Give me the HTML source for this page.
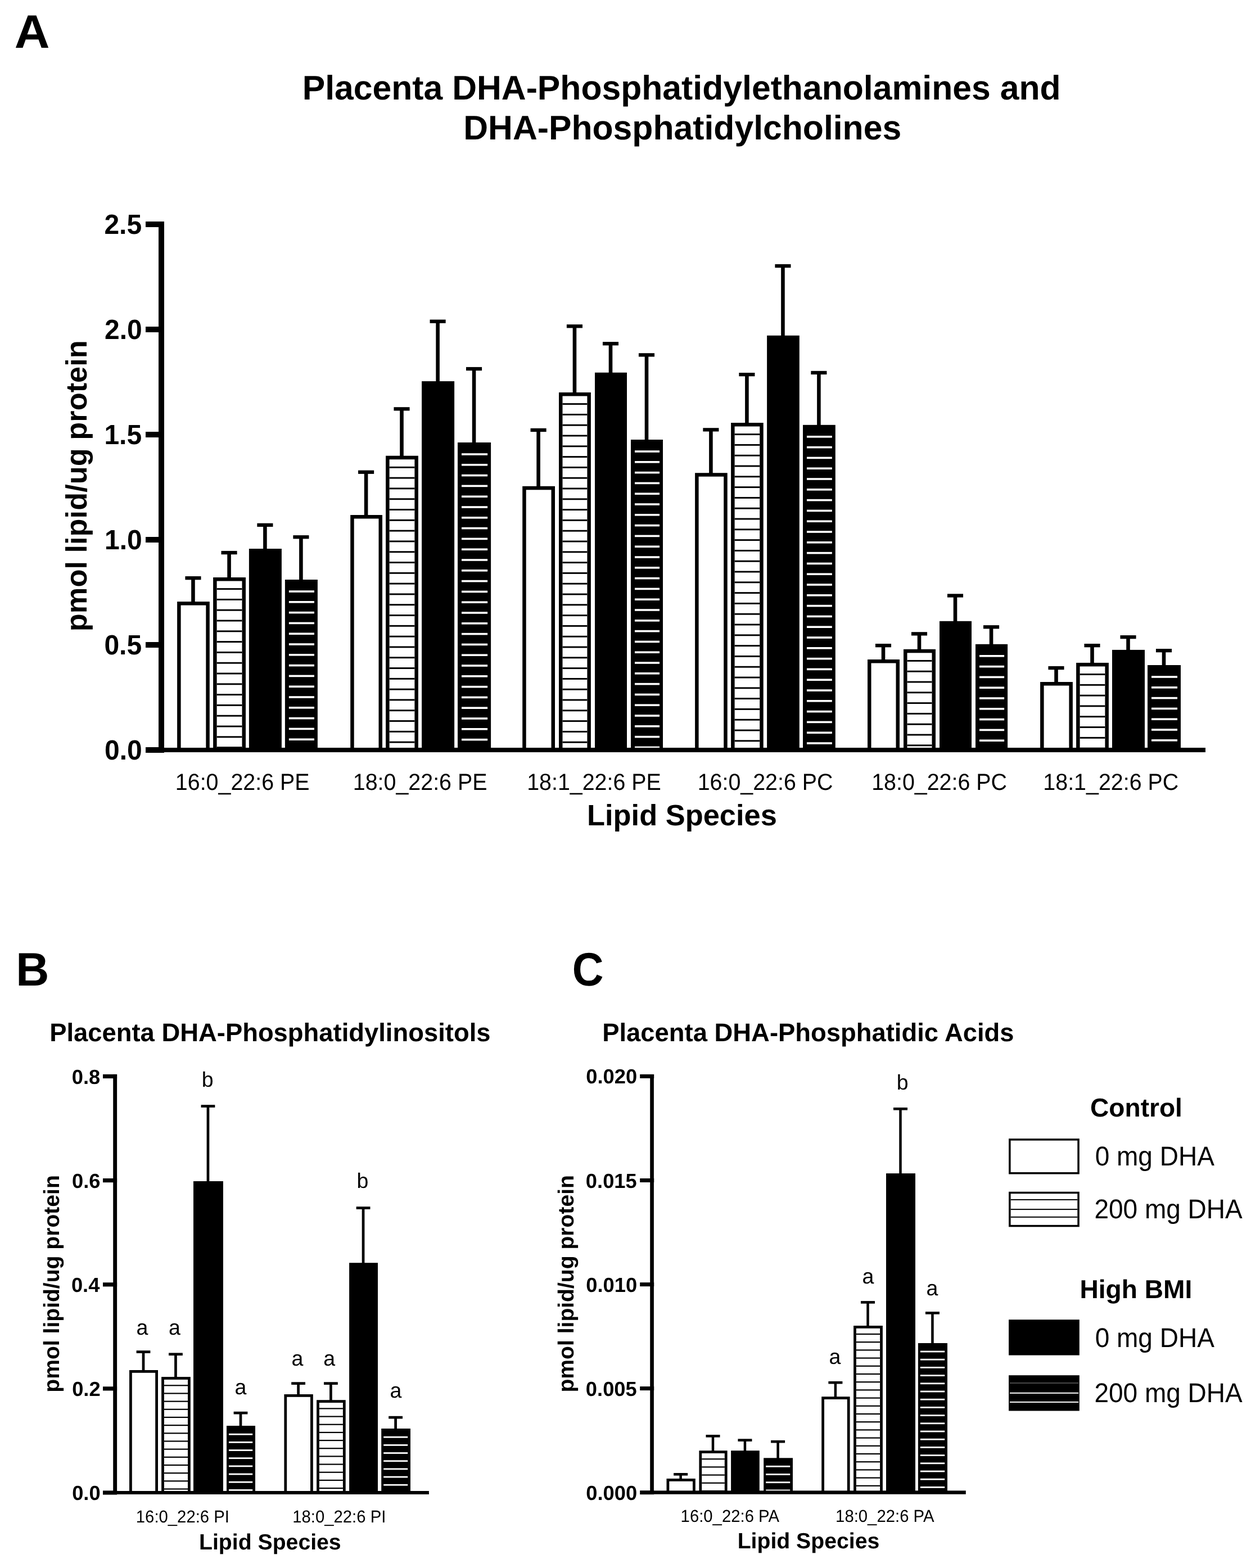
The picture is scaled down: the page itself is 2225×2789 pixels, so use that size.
<!DOCTYPE html>
<html><head><meta charset="utf-8"><title>Placenta DHA lipid species</title>
<style>
html,body{margin:0;padding:0;background:#fff;overflow:hidden;}
svg{display:block;}
text{font-family:"Liberation Sans",Arial,sans-serif;fill:#000;text-rendering:geometricPrecision;}
</style></head>
<body>
<svg width="2225" height="2789" viewBox="0 0 2225 2789">
<rect x="0" y="0" width="2225" height="2789" fill="#fff"/>
<text transform="translate(25.73,84.90) scale(1.04,1.0)" font-size="83.5" font-weight="bold">A</text>
<text x="537.70" y="177.00" font-size="60.7" font-weight="bold">Placenta DHA-Phosphatidylethanolamines and</text>
<text x="824.30" y="247.60" font-size="60.7" font-weight="bold">DHA-Phosphatidylcholines</text>
<rect x="259.00" y="394.00" width="33.00" height="10.00" fill="#000"/>
<text transform="translate(185.40,416.00) scale(1.0,1.03)" font-size="48" font-weight="bold">2.5</text>
<rect x="259.00" y="581.00" width="33.00" height="10.00" fill="#000"/>
<text transform="translate(186.00,603.00) scale(1.0,1.03)" font-size="48" font-weight="bold">2.0</text>
<rect x="259.00" y="768.00" width="33.00" height="10.00" fill="#000"/>
<text transform="translate(185.40,790.00) scale(1.0,1.03)" font-size="48" font-weight="bold">1.5</text>
<rect x="259.00" y="955.00" width="33.00" height="10.00" fill="#000"/>
<text transform="translate(186.00,977.00) scale(1.0,1.03)" font-size="48" font-weight="bold">1.0</text>
<rect x="259.00" y="1142.00" width="33.00" height="10.00" fill="#000"/>
<text transform="translate(185.40,1164.00) scale(1.0,1.03)" font-size="48" font-weight="bold">0.5</text>
<rect x="259.00" y="1329.00" width="33.00" height="10.00" fill="#000"/>
<text transform="translate(186.00,1351.00) scale(1.0,1.03)" font-size="48" font-weight="bold">0.0</text>
<text transform="translate(154.20,1123.21) rotate(-90)" font-size="52.4" font-weight="bold">pmol lipid/ug protein</text>
<text x="1044.06" y="1467.60" font-size="52.4" font-weight="bold">Lipid Species</text>
<text transform="translate(311.85,1404.80) scale(1.0,1.05)" font-size="39.4" font-weight="normal">16:0_22:6 PE</text>
<text transform="translate(627.75,1404.80) scale(1.0,1.05)" font-size="39.4" font-weight="normal">18:0_22:6 PE</text>
<text transform="translate(937.14,1404.80) scale(1.0,1.05)" font-size="39.4" font-weight="normal">18:1_22:6 PE</text>
<text transform="translate(1240.64,1404.80) scale(1.0,1.05)" font-size="39.4" font-weight="normal">16:0_22:6 PC</text>
<text transform="translate(1550.14,1404.80) scale(1.0,1.05)" font-size="39.4" font-weight="normal">18:0_22:6 PC</text>
<text transform="translate(1855.35,1404.80) scale(1.0,1.05)" font-size="39.4" font-weight="normal">18:1_22:6 PC</text>
<rect x="340.15" y="1026.00" width="6.60" height="46.10" fill="#000"/>
<rect x="329.40" y="1025.00" width="28.10" height="6.30" fill="#000"/>
<rect x="315.10" y="1070.10" width="57.70" height="261.90" fill="#000"/>
<rect x="321.60" y="1076.60" width="44.70" height="255.40" fill="#fff"/>
<rect x="404.25" y="980.90" width="6.60" height="48.10" fill="#000"/>
<rect x="393.50" y="979.90" width="28.10" height="6.30" fill="#000"/>
<rect x="379.10" y="1027.00" width="57.90" height="305.00" fill="#000"/>
<rect x="385.60" y="1033.50" width="44.90" height="298.50" fill="#fff"/>
<rect x="385.60" y="1046.15" width="44.90" height="2.90" fill="#000"/>
<rect x="385.60" y="1064.95" width="44.90" height="2.90" fill="#000"/>
<rect x="385.60" y="1083.75" width="44.90" height="2.90" fill="#000"/>
<rect x="385.60" y="1102.55" width="44.90" height="2.90" fill="#000"/>
<rect x="385.60" y="1121.35" width="44.90" height="2.90" fill="#000"/>
<rect x="385.60" y="1140.15" width="44.90" height="2.90" fill="#000"/>
<rect x="385.60" y="1158.95" width="44.90" height="2.90" fill="#000"/>
<rect x="385.60" y="1177.75" width="44.90" height="2.90" fill="#000"/>
<rect x="385.60" y="1196.55" width="44.90" height="2.90" fill="#000"/>
<rect x="385.60" y="1215.35" width="44.90" height="2.90" fill="#000"/>
<rect x="385.60" y="1234.15" width="44.90" height="2.90" fill="#000"/>
<rect x="385.60" y="1252.95" width="44.90" height="2.90" fill="#000"/>
<rect x="385.60" y="1271.75" width="44.90" height="2.90" fill="#000"/>
<rect x="385.60" y="1290.55" width="44.90" height="2.90" fill="#000"/>
<rect x="385.60" y="1309.35" width="44.90" height="2.90" fill="#000"/>
<rect x="385.60" y="1328.15" width="44.90" height="2.90" fill="#000"/>
<rect x="468.10" y="931.70" width="6.60" height="46.30" fill="#000"/>
<rect x="457.35" y="930.70" width="28.10" height="6.30" fill="#000"/>
<rect x="442.90" y="976.00" width="58.00" height="356.00" fill="#000"/>
<rect x="532.10" y="953.10" width="6.60" height="79.90" fill="#000"/>
<rect x="521.35" y="952.10" width="28.10" height="6.30" fill="#000"/>
<rect x="506.90" y="1031.00" width="58.00" height="301.00" fill="#000"/>
<rect x="513.90" y="1050.20" width="45.00" height="3.60" fill="#fff"/>
<rect x="513.90" y="1069.00" width="45.00" height="3.60" fill="#fff"/>
<rect x="513.90" y="1087.80" width="45.00" height="3.60" fill="#fff"/>
<rect x="513.90" y="1106.60" width="45.00" height="3.60" fill="#fff"/>
<rect x="513.90" y="1125.40" width="45.00" height="3.60" fill="#fff"/>
<rect x="513.90" y="1144.20" width="45.00" height="3.60" fill="#fff"/>
<rect x="513.90" y="1163.00" width="45.00" height="3.60" fill="#fff"/>
<rect x="513.90" y="1181.80" width="45.00" height="3.60" fill="#fff"/>
<rect x="513.90" y="1200.60" width="45.00" height="3.60" fill="#fff"/>
<rect x="513.90" y="1219.40" width="45.00" height="3.60" fill="#fff"/>
<rect x="513.90" y="1238.20" width="45.00" height="3.60" fill="#fff"/>
<rect x="513.90" y="1257.00" width="45.00" height="3.60" fill="#fff"/>
<rect x="513.90" y="1275.80" width="45.00" height="3.60" fill="#fff"/>
<rect x="513.90" y="1294.60" width="45.00" height="3.60" fill="#fff"/>
<rect x="513.90" y="1313.40" width="45.00" height="3.60" fill="#fff"/>
<rect x="647.80" y="837.60" width="6.60" height="80.40" fill="#000"/>
<rect x="637.05" y="836.60" width="28.10" height="6.30" fill="#000"/>
<rect x="623.20" y="916.00" width="56.80" height="416.00" fill="#000"/>
<rect x="629.70" y="922.50" width="43.80" height="409.50" fill="#fff"/>
<rect x="711.20" y="725.20" width="6.60" height="87.50" fill="#000"/>
<rect x="700.45" y="724.20" width="28.10" height="6.30" fill="#000"/>
<rect x="686.10" y="810.70" width="57.80" height="521.30" fill="#000"/>
<rect x="692.60" y="817.20" width="44.80" height="514.80" fill="#fff"/>
<rect x="692.60" y="829.85" width="44.80" height="2.90" fill="#000"/>
<rect x="692.60" y="848.65" width="44.80" height="2.90" fill="#000"/>
<rect x="692.60" y="867.45" width="44.80" height="2.90" fill="#000"/>
<rect x="692.60" y="886.25" width="44.80" height="2.90" fill="#000"/>
<rect x="692.60" y="905.05" width="44.80" height="2.90" fill="#000"/>
<rect x="692.60" y="923.85" width="44.80" height="2.90" fill="#000"/>
<rect x="692.60" y="942.65" width="44.80" height="2.90" fill="#000"/>
<rect x="692.60" y="961.45" width="44.80" height="2.90" fill="#000"/>
<rect x="692.60" y="980.25" width="44.80" height="2.90" fill="#000"/>
<rect x="692.60" y="999.05" width="44.80" height="2.90" fill="#000"/>
<rect x="692.60" y="1017.85" width="44.80" height="2.90" fill="#000"/>
<rect x="692.60" y="1036.65" width="44.80" height="2.90" fill="#000"/>
<rect x="692.60" y="1055.45" width="44.80" height="2.90" fill="#000"/>
<rect x="692.60" y="1074.25" width="44.80" height="2.90" fill="#000"/>
<rect x="692.60" y="1093.05" width="44.80" height="2.90" fill="#000"/>
<rect x="692.60" y="1111.85" width="44.80" height="2.90" fill="#000"/>
<rect x="692.60" y="1130.65" width="44.80" height="2.90" fill="#000"/>
<rect x="692.60" y="1149.45" width="44.80" height="2.90" fill="#000"/>
<rect x="692.60" y="1168.25" width="44.80" height="2.90" fill="#000"/>
<rect x="692.60" y="1187.05" width="44.80" height="2.90" fill="#000"/>
<rect x="692.60" y="1205.85" width="44.80" height="2.90" fill="#000"/>
<rect x="692.60" y="1224.65" width="44.80" height="2.90" fill="#000"/>
<rect x="692.60" y="1243.45" width="44.80" height="2.90" fill="#000"/>
<rect x="692.60" y="1262.25" width="44.80" height="2.90" fill="#000"/>
<rect x="692.60" y="1281.05" width="44.80" height="2.90" fill="#000"/>
<rect x="692.60" y="1299.85" width="44.80" height="2.90" fill="#000"/>
<rect x="692.60" y="1318.65" width="44.80" height="2.90" fill="#000"/>
<rect x="775.30" y="569.50" width="6.60" height="110.60" fill="#000"/>
<rect x="764.55" y="568.50" width="28.10" height="6.30" fill="#000"/>
<rect x="750.10" y="678.10" width="58.00" height="653.90" fill="#000"/>
<rect x="839.75" y="653.90" width="6.60" height="135.10" fill="#000"/>
<rect x="829.00" y="652.90" width="28.10" height="6.30" fill="#000"/>
<rect x="814.00" y="787.00" width="59.10" height="545.00" fill="#000"/>
<rect x="821.00" y="806.20" width="46.10" height="3.60" fill="#fff"/>
<rect x="821.00" y="825.00" width="46.10" height="3.60" fill="#fff"/>
<rect x="821.00" y="843.80" width="46.10" height="3.60" fill="#fff"/>
<rect x="821.00" y="862.60" width="46.10" height="3.60" fill="#fff"/>
<rect x="821.00" y="881.40" width="46.10" height="3.60" fill="#fff"/>
<rect x="821.00" y="900.20" width="46.10" height="3.60" fill="#fff"/>
<rect x="821.00" y="919.00" width="46.10" height="3.60" fill="#fff"/>
<rect x="821.00" y="937.80" width="46.10" height="3.60" fill="#fff"/>
<rect x="821.00" y="956.60" width="46.10" height="3.60" fill="#fff"/>
<rect x="821.00" y="975.40" width="46.10" height="3.60" fill="#fff"/>
<rect x="821.00" y="994.20" width="46.10" height="3.60" fill="#fff"/>
<rect x="821.00" y="1013.00" width="46.10" height="3.60" fill="#fff"/>
<rect x="821.00" y="1031.80" width="46.10" height="3.60" fill="#fff"/>
<rect x="821.00" y="1050.60" width="46.10" height="3.60" fill="#fff"/>
<rect x="821.00" y="1069.40" width="46.10" height="3.60" fill="#fff"/>
<rect x="821.00" y="1088.20" width="46.10" height="3.60" fill="#fff"/>
<rect x="821.00" y="1107.00" width="46.10" height="3.60" fill="#fff"/>
<rect x="821.00" y="1125.80" width="46.10" height="3.60" fill="#fff"/>
<rect x="821.00" y="1144.60" width="46.10" height="3.60" fill="#fff"/>
<rect x="821.00" y="1163.40" width="46.10" height="3.60" fill="#fff"/>
<rect x="821.00" y="1182.20" width="46.10" height="3.60" fill="#fff"/>
<rect x="821.00" y="1201.00" width="46.10" height="3.60" fill="#fff"/>
<rect x="821.00" y="1219.80" width="46.10" height="3.60" fill="#fff"/>
<rect x="821.00" y="1238.60" width="46.10" height="3.60" fill="#fff"/>
<rect x="821.00" y="1257.40" width="46.10" height="3.60" fill="#fff"/>
<rect x="821.00" y="1276.20" width="46.10" height="3.60" fill="#fff"/>
<rect x="821.00" y="1295.00" width="46.10" height="3.60" fill="#fff"/>
<rect x="821.00" y="1313.80" width="46.10" height="3.60" fill="#fff"/>
<rect x="954.30" y="762.80" width="6.60" height="104.00" fill="#000"/>
<rect x="943.55" y="761.80" width="28.10" height="6.30" fill="#000"/>
<rect x="929.20" y="864.80" width="57.80" height="467.20" fill="#000"/>
<rect x="935.70" y="871.30" width="44.80" height="460.70" fill="#fff"/>
<rect x="1018.65" y="578.10" width="6.60" height="121.90" fill="#000"/>
<rect x="1007.90" y="577.10" width="28.10" height="6.30" fill="#000"/>
<rect x="994.00" y="698.00" width="56.90" height="634.00" fill="#000"/>
<rect x="1000.50" y="704.50" width="43.90" height="627.50" fill="#fff"/>
<rect x="1000.50" y="717.15" width="43.90" height="2.90" fill="#000"/>
<rect x="1000.50" y="735.95" width="43.90" height="2.90" fill="#000"/>
<rect x="1000.50" y="754.75" width="43.90" height="2.90" fill="#000"/>
<rect x="1000.50" y="773.55" width="43.90" height="2.90" fill="#000"/>
<rect x="1000.50" y="792.35" width="43.90" height="2.90" fill="#000"/>
<rect x="1000.50" y="811.15" width="43.90" height="2.90" fill="#000"/>
<rect x="1000.50" y="829.95" width="43.90" height="2.90" fill="#000"/>
<rect x="1000.50" y="848.75" width="43.90" height="2.90" fill="#000"/>
<rect x="1000.50" y="867.55" width="43.90" height="2.90" fill="#000"/>
<rect x="1000.50" y="886.35" width="43.90" height="2.90" fill="#000"/>
<rect x="1000.50" y="905.15" width="43.90" height="2.90" fill="#000"/>
<rect x="1000.50" y="923.95" width="43.90" height="2.90" fill="#000"/>
<rect x="1000.50" y="942.75" width="43.90" height="2.90" fill="#000"/>
<rect x="1000.50" y="961.55" width="43.90" height="2.90" fill="#000"/>
<rect x="1000.50" y="980.35" width="43.90" height="2.90" fill="#000"/>
<rect x="1000.50" y="999.15" width="43.90" height="2.90" fill="#000"/>
<rect x="1000.50" y="1017.95" width="43.90" height="2.90" fill="#000"/>
<rect x="1000.50" y="1036.75" width="43.90" height="2.90" fill="#000"/>
<rect x="1000.50" y="1055.55" width="43.90" height="2.90" fill="#000"/>
<rect x="1000.50" y="1074.35" width="43.90" height="2.90" fill="#000"/>
<rect x="1000.50" y="1093.15" width="43.90" height="2.90" fill="#000"/>
<rect x="1000.50" y="1111.95" width="43.90" height="2.90" fill="#000"/>
<rect x="1000.50" y="1130.75" width="43.90" height="2.90" fill="#000"/>
<rect x="1000.50" y="1149.55" width="43.90" height="2.90" fill="#000"/>
<rect x="1000.50" y="1168.35" width="43.90" height="2.90" fill="#000"/>
<rect x="1000.50" y="1187.15" width="43.90" height="2.90" fill="#000"/>
<rect x="1000.50" y="1205.95" width="43.90" height="2.90" fill="#000"/>
<rect x="1000.50" y="1224.75" width="43.90" height="2.90" fill="#000"/>
<rect x="1000.50" y="1243.55" width="43.90" height="2.90" fill="#000"/>
<rect x="1000.50" y="1262.35" width="43.90" height="2.90" fill="#000"/>
<rect x="1000.50" y="1281.15" width="43.90" height="2.90" fill="#000"/>
<rect x="1000.50" y="1299.95" width="43.90" height="2.90" fill="#000"/>
<rect x="1000.50" y="1318.75" width="43.90" height="2.90" fill="#000"/>
<rect x="1082.70" y="609.10" width="6.60" height="55.60" fill="#000"/>
<rect x="1071.95" y="608.10" width="28.10" height="6.30" fill="#000"/>
<rect x="1058.00" y="662.70" width="57.00" height="669.30" fill="#000"/>
<rect x="1146.70" y="629.20" width="6.60" height="154.80" fill="#000"/>
<rect x="1135.95" y="628.20" width="28.10" height="6.30" fill="#000"/>
<rect x="1122.00" y="782.00" width="57.00" height="550.00" fill="#000"/>
<rect x="1129.00" y="801.20" width="44.00" height="3.60" fill="#fff"/>
<rect x="1129.00" y="820.00" width="44.00" height="3.60" fill="#fff"/>
<rect x="1129.00" y="838.80" width="44.00" height="3.60" fill="#fff"/>
<rect x="1129.00" y="857.60" width="44.00" height="3.60" fill="#fff"/>
<rect x="1129.00" y="876.40" width="44.00" height="3.60" fill="#fff"/>
<rect x="1129.00" y="895.20" width="44.00" height="3.60" fill="#fff"/>
<rect x="1129.00" y="914.00" width="44.00" height="3.60" fill="#fff"/>
<rect x="1129.00" y="932.80" width="44.00" height="3.60" fill="#fff"/>
<rect x="1129.00" y="951.60" width="44.00" height="3.60" fill="#fff"/>
<rect x="1129.00" y="970.40" width="44.00" height="3.60" fill="#fff"/>
<rect x="1129.00" y="989.20" width="44.00" height="3.60" fill="#fff"/>
<rect x="1129.00" y="1008.00" width="44.00" height="3.60" fill="#fff"/>
<rect x="1129.00" y="1026.80" width="44.00" height="3.60" fill="#fff"/>
<rect x="1129.00" y="1045.60" width="44.00" height="3.60" fill="#fff"/>
<rect x="1129.00" y="1064.40" width="44.00" height="3.60" fill="#fff"/>
<rect x="1129.00" y="1083.20" width="44.00" height="3.60" fill="#fff"/>
<rect x="1129.00" y="1102.00" width="44.00" height="3.60" fill="#fff"/>
<rect x="1129.00" y="1120.80" width="44.00" height="3.60" fill="#fff"/>
<rect x="1129.00" y="1139.60" width="44.00" height="3.60" fill="#fff"/>
<rect x="1129.00" y="1158.40" width="44.00" height="3.60" fill="#fff"/>
<rect x="1129.00" y="1177.20" width="44.00" height="3.60" fill="#fff"/>
<rect x="1129.00" y="1196.00" width="44.00" height="3.60" fill="#fff"/>
<rect x="1129.00" y="1214.80" width="44.00" height="3.60" fill="#fff"/>
<rect x="1129.00" y="1233.60" width="44.00" height="3.60" fill="#fff"/>
<rect x="1129.00" y="1252.40" width="44.00" height="3.60" fill="#fff"/>
<rect x="1129.00" y="1271.20" width="44.00" height="3.60" fill="#fff"/>
<rect x="1129.00" y="1290.00" width="44.00" height="3.60" fill="#fff"/>
<rect x="1129.00" y="1308.80" width="44.00" height="3.60" fill="#fff"/>
<rect x="1129.00" y="1327.60" width="44.00" height="3.60" fill="#fff"/>
<rect x="1261.10" y="762.20" width="6.60" height="81.00" fill="#000"/>
<rect x="1250.35" y="761.20" width="28.10" height="6.30" fill="#000"/>
<rect x="1236.10" y="841.20" width="57.60" height="490.80" fill="#000"/>
<rect x="1242.60" y="847.70" width="44.60" height="484.30" fill="#fff"/>
<rect x="1325.10" y="664.00" width="6.60" height="90.00" fill="#000"/>
<rect x="1314.35" y="663.00" width="28.10" height="6.30" fill="#000"/>
<rect x="1300.10" y="752.00" width="57.60" height="580.00" fill="#000"/>
<rect x="1306.60" y="758.50" width="44.60" height="573.50" fill="#fff"/>
<rect x="1306.60" y="771.15" width="44.60" height="2.90" fill="#000"/>
<rect x="1306.60" y="789.95" width="44.60" height="2.90" fill="#000"/>
<rect x="1306.60" y="808.75" width="44.60" height="2.90" fill="#000"/>
<rect x="1306.60" y="827.55" width="44.60" height="2.90" fill="#000"/>
<rect x="1306.60" y="846.35" width="44.60" height="2.90" fill="#000"/>
<rect x="1306.60" y="865.15" width="44.60" height="2.90" fill="#000"/>
<rect x="1306.60" y="883.95" width="44.60" height="2.90" fill="#000"/>
<rect x="1306.60" y="902.75" width="44.60" height="2.90" fill="#000"/>
<rect x="1306.60" y="921.55" width="44.60" height="2.90" fill="#000"/>
<rect x="1306.60" y="940.35" width="44.60" height="2.90" fill="#000"/>
<rect x="1306.60" y="959.15" width="44.60" height="2.90" fill="#000"/>
<rect x="1306.60" y="977.95" width="44.60" height="2.90" fill="#000"/>
<rect x="1306.60" y="996.75" width="44.60" height="2.90" fill="#000"/>
<rect x="1306.60" y="1015.55" width="44.60" height="2.90" fill="#000"/>
<rect x="1306.60" y="1034.35" width="44.60" height="2.90" fill="#000"/>
<rect x="1306.60" y="1053.15" width="44.60" height="2.90" fill="#000"/>
<rect x="1306.60" y="1071.95" width="44.60" height="2.90" fill="#000"/>
<rect x="1306.60" y="1090.75" width="44.60" height="2.90" fill="#000"/>
<rect x="1306.60" y="1109.55" width="44.60" height="2.90" fill="#000"/>
<rect x="1306.60" y="1128.35" width="44.60" height="2.90" fill="#000"/>
<rect x="1306.60" y="1147.15" width="44.60" height="2.90" fill="#000"/>
<rect x="1306.60" y="1165.95" width="44.60" height="2.90" fill="#000"/>
<rect x="1306.60" y="1184.75" width="44.60" height="2.90" fill="#000"/>
<rect x="1306.60" y="1203.55" width="44.60" height="2.90" fill="#000"/>
<rect x="1306.60" y="1222.35" width="44.60" height="2.90" fill="#000"/>
<rect x="1306.60" y="1241.15" width="44.60" height="2.90" fill="#000"/>
<rect x="1306.60" y="1259.95" width="44.60" height="2.90" fill="#000"/>
<rect x="1306.60" y="1278.75" width="44.60" height="2.90" fill="#000"/>
<rect x="1306.60" y="1297.55" width="44.60" height="2.90" fill="#000"/>
<rect x="1306.60" y="1316.35" width="44.60" height="2.90" fill="#000"/>
<rect x="1389.15" y="470.90" width="6.60" height="127.90" fill="#000"/>
<rect x="1378.40" y="469.90" width="28.10" height="6.30" fill="#000"/>
<rect x="1364.10" y="596.80" width="57.70" height="735.20" fill="#000"/>
<rect x="1453.10" y="660.80" width="6.60" height="97.00" fill="#000"/>
<rect x="1442.35" y="659.80" width="28.10" height="6.30" fill="#000"/>
<rect x="1428.00" y="755.80" width="57.80" height="576.20" fill="#000"/>
<rect x="1435.00" y="775.00" width="44.80" height="3.60" fill="#fff"/>
<rect x="1435.00" y="793.80" width="44.80" height="3.60" fill="#fff"/>
<rect x="1435.00" y="812.60" width="44.80" height="3.60" fill="#fff"/>
<rect x="1435.00" y="831.40" width="44.80" height="3.60" fill="#fff"/>
<rect x="1435.00" y="850.20" width="44.80" height="3.60" fill="#fff"/>
<rect x="1435.00" y="869.00" width="44.80" height="3.60" fill="#fff"/>
<rect x="1435.00" y="887.80" width="44.80" height="3.60" fill="#fff"/>
<rect x="1435.00" y="906.60" width="44.80" height="3.60" fill="#fff"/>
<rect x="1435.00" y="925.40" width="44.80" height="3.60" fill="#fff"/>
<rect x="1435.00" y="944.20" width="44.80" height="3.60" fill="#fff"/>
<rect x="1435.00" y="963.00" width="44.80" height="3.60" fill="#fff"/>
<rect x="1435.00" y="981.80" width="44.80" height="3.60" fill="#fff"/>
<rect x="1435.00" y="1000.60" width="44.80" height="3.60" fill="#fff"/>
<rect x="1435.00" y="1019.40" width="44.80" height="3.60" fill="#fff"/>
<rect x="1435.00" y="1038.20" width="44.80" height="3.60" fill="#fff"/>
<rect x="1435.00" y="1057.00" width="44.80" height="3.60" fill="#fff"/>
<rect x="1435.00" y="1075.80" width="44.80" height="3.60" fill="#fff"/>
<rect x="1435.00" y="1094.60" width="44.80" height="3.60" fill="#fff"/>
<rect x="1435.00" y="1113.40" width="44.80" height="3.60" fill="#fff"/>
<rect x="1435.00" y="1132.20" width="44.80" height="3.60" fill="#fff"/>
<rect x="1435.00" y="1151.00" width="44.80" height="3.60" fill="#fff"/>
<rect x="1435.00" y="1169.80" width="44.80" height="3.60" fill="#fff"/>
<rect x="1435.00" y="1188.60" width="44.80" height="3.60" fill="#fff"/>
<rect x="1435.00" y="1207.40" width="44.80" height="3.60" fill="#fff"/>
<rect x="1435.00" y="1226.20" width="44.80" height="3.60" fill="#fff"/>
<rect x="1435.00" y="1245.00" width="44.80" height="3.60" fill="#fff"/>
<rect x="1435.00" y="1263.80" width="44.80" height="3.60" fill="#fff"/>
<rect x="1435.00" y="1282.60" width="44.80" height="3.60" fill="#fff"/>
<rect x="1435.00" y="1301.40" width="44.80" height="3.60" fill="#fff"/>
<rect x="1435.00" y="1320.20" width="44.80" height="3.60" fill="#fff"/>
<rect x="1567.70" y="1146.00" width="6.60" height="29.00" fill="#000"/>
<rect x="1556.95" y="1145.00" width="28.10" height="6.30" fill="#000"/>
<rect x="1543.00" y="1173.00" width="57.00" height="159.00" fill="#000"/>
<rect x="1549.50" y="1179.50" width="44.00" height="152.50" fill="#fff"/>
<rect x="1631.70" y="1125.20" width="6.60" height="31.60" fill="#000"/>
<rect x="1620.95" y="1124.20" width="28.10" height="6.30" fill="#000"/>
<rect x="1607.00" y="1154.80" width="57.00" height="177.20" fill="#000"/>
<rect x="1613.50" y="1161.30" width="44.00" height="170.70" fill="#fff"/>
<rect x="1613.50" y="1173.95" width="44.00" height="2.90" fill="#000"/>
<rect x="1613.50" y="1192.75" width="44.00" height="2.90" fill="#000"/>
<rect x="1613.50" y="1211.55" width="44.00" height="2.90" fill="#000"/>
<rect x="1613.50" y="1230.35" width="44.00" height="2.90" fill="#000"/>
<rect x="1613.50" y="1249.15" width="44.00" height="2.90" fill="#000"/>
<rect x="1613.50" y="1267.95" width="44.00" height="2.90" fill="#000"/>
<rect x="1613.50" y="1286.75" width="44.00" height="2.90" fill="#000"/>
<rect x="1613.50" y="1305.55" width="44.00" height="2.90" fill="#000"/>
<rect x="1613.50" y="1324.35" width="44.00" height="2.90" fill="#000"/>
<rect x="1695.70" y="1057.30" width="6.60" height="49.50" fill="#000"/>
<rect x="1684.95" y="1056.30" width="28.10" height="6.30" fill="#000"/>
<rect x="1671.00" y="1104.80" width="57.00" height="227.20" fill="#000"/>
<rect x="1759.75" y="1113.10" width="6.60" height="34.70" fill="#000"/>
<rect x="1749.00" y="1112.10" width="28.10" height="6.30" fill="#000"/>
<rect x="1735.00" y="1145.80" width="57.10" height="186.20" fill="#000"/>
<rect x="1742.00" y="1165.00" width="44.10" height="3.60" fill="#fff"/>
<rect x="1742.00" y="1183.80" width="44.10" height="3.60" fill="#fff"/>
<rect x="1742.00" y="1202.60" width="44.10" height="3.60" fill="#fff"/>
<rect x="1742.00" y="1221.40" width="44.10" height="3.60" fill="#fff"/>
<rect x="1742.00" y="1240.20" width="44.10" height="3.60" fill="#fff"/>
<rect x="1742.00" y="1259.00" width="44.10" height="3.60" fill="#fff"/>
<rect x="1742.00" y="1277.80" width="44.10" height="3.60" fill="#fff"/>
<rect x="1742.00" y="1296.60" width="44.10" height="3.60" fill="#fff"/>
<rect x="1742.00" y="1315.40" width="44.10" height="3.60" fill="#fff"/>
<rect x="1875.20" y="1185.90" width="6.60" height="29.10" fill="#000"/>
<rect x="1864.45" y="1184.90" width="28.10" height="6.30" fill="#000"/>
<rect x="1850.10" y="1213.00" width="57.80" height="119.00" fill="#000"/>
<rect x="1856.60" y="1219.50" width="44.80" height="112.50" fill="#fff"/>
<rect x="1939.20" y="1146.00" width="6.60" height="34.90" fill="#000"/>
<rect x="1928.45" y="1145.00" width="28.10" height="6.30" fill="#000"/>
<rect x="1914.10" y="1178.90" width="57.80" height="153.10" fill="#000"/>
<rect x="1920.60" y="1185.40" width="44.80" height="146.60" fill="#fff"/>
<rect x="1920.60" y="1198.05" width="44.80" height="2.90" fill="#000"/>
<rect x="1920.60" y="1216.85" width="44.80" height="2.90" fill="#000"/>
<rect x="1920.60" y="1235.65" width="44.80" height="2.90" fill="#000"/>
<rect x="1920.60" y="1254.45" width="44.80" height="2.90" fill="#000"/>
<rect x="1920.60" y="1273.25" width="44.80" height="2.90" fill="#000"/>
<rect x="1920.60" y="1292.05" width="44.80" height="2.90" fill="#000"/>
<rect x="1920.60" y="1310.85" width="44.80" height="2.90" fill="#000"/>
<rect x="1920.60" y="1329.65" width="44.80" height="2.90" fill="#000"/>
<rect x="2003.20" y="1131.00" width="6.60" height="26.90" fill="#000"/>
<rect x="1992.45" y="1130.00" width="28.10" height="6.30" fill="#000"/>
<rect x="1978.00" y="1155.90" width="58.00" height="176.10" fill="#000"/>
<rect x="2066.70" y="1155.00" width="6.60" height="30.00" fill="#000"/>
<rect x="2055.95" y="1154.00" width="28.10" height="6.30" fill="#000"/>
<rect x="2041.00" y="1183.00" width="59.00" height="149.00" fill="#000"/>
<rect x="2048.00" y="1202.20" width="46.00" height="3.60" fill="#fff"/>
<rect x="2048.00" y="1221.00" width="46.00" height="3.60" fill="#fff"/>
<rect x="2048.00" y="1239.80" width="46.00" height="3.60" fill="#fff"/>
<rect x="2048.00" y="1258.60" width="46.00" height="3.60" fill="#fff"/>
<rect x="2048.00" y="1277.40" width="46.00" height="3.60" fill="#fff"/>
<rect x="2048.00" y="1296.20" width="46.00" height="3.60" fill="#fff"/>
<rect x="2048.00" y="1315.00" width="46.00" height="3.60" fill="#fff"/>
<text transform="translate(28.18,1752.80) scale(0.98,1.0)" font-size="83.5" font-weight="bold">B</text>
<text x="88.14" y="1852.20" font-size="45.4" font-weight="bold">Placenta DHA-Phosphatidylinositols</text>
<rect x="183.00" y="1910.90" width="25.10" height="7.20" fill="#000"/>
<text x="127.83" y="1927.50" font-size="36.3" font-weight="bold">0.8</text>
<rect x="183.00" y="2096.00" width="25.10" height="7.20" fill="#000"/>
<text x="128.01" y="2112.60" font-size="36.3" font-weight="bold">0.6</text>
<rect x="183.00" y="2281.20" width="25.10" height="7.20" fill="#000"/>
<text x="126.92" y="2297.80" font-size="36.3" font-weight="bold">0.4</text>
<rect x="183.00" y="2466.30" width="25.10" height="7.20" fill="#000"/>
<text x="128.19" y="2482.90" font-size="36.3" font-weight="bold">0.2</text>
<rect x="183.00" y="2651.40" width="25.10" height="7.20" fill="#000"/>
<text x="128.19" y="2668.00" font-size="36.3" font-weight="bold">0.0</text>
<text transform="translate(105.45,2476.64) rotate(-90)" font-size="39.1" font-weight="bold">pmol lipid/ug protein</text>
<text x="354.05" y="2755.50" font-size="39.2" font-weight="bold">Lipid Species</text>
<text transform="translate(241.80,2707.80) scale(1.0,1.05)" font-size="29.3" font-weight="normal">16:0_22:6 PI</text>
<text transform="translate(520.20,2707.80) scale(1.0,1.05)" font-size="29.3" font-weight="normal">18:0_22:6 PI</text>
<rect x="252.65" y="2403.20" width="4.70" height="35.80" fill="#000"/>
<rect x="242.60" y="2402.20" width="24.80" height="4.70" fill="#000"/>
<rect x="230.00" y="2437.00" width="51.00" height="217.00" fill="#000"/>
<rect x="234.80" y="2441.80" width="41.40" height="212.20" fill="#fff"/>
<rect x="310.10" y="2407.40" width="4.70" height="43.70" fill="#000"/>
<rect x="300.05" y="2406.40" width="24.80" height="4.70" fill="#000"/>
<rect x="287.10" y="2449.10" width="51.70" height="204.90" fill="#000"/>
<rect x="291.90" y="2453.90" width="42.10" height="200.10" fill="#fff"/>
<rect x="291.90" y="2463.20" width="42.10" height="2.20" fill="#000"/>
<rect x="291.90" y="2477.37" width="42.10" height="2.20" fill="#000"/>
<rect x="291.90" y="2491.54" width="42.10" height="2.20" fill="#000"/>
<rect x="291.90" y="2505.71" width="42.10" height="2.20" fill="#000"/>
<rect x="291.90" y="2519.88" width="42.10" height="2.20" fill="#000"/>
<rect x="291.90" y="2534.05" width="42.10" height="2.20" fill="#000"/>
<rect x="291.90" y="2548.22" width="42.10" height="2.20" fill="#000"/>
<rect x="291.90" y="2562.39" width="42.10" height="2.20" fill="#000"/>
<rect x="291.90" y="2576.56" width="42.10" height="2.20" fill="#000"/>
<rect x="291.90" y="2590.73" width="42.10" height="2.20" fill="#000"/>
<rect x="291.90" y="2604.90" width="42.10" height="2.20" fill="#000"/>
<rect x="291.90" y="2619.07" width="42.10" height="2.20" fill="#000"/>
<rect x="291.90" y="2633.24" width="42.10" height="2.20" fill="#000"/>
<rect x="291.90" y="2647.41" width="42.10" height="2.20" fill="#000"/>
<rect x="367.60" y="1966.20" width="4.70" height="136.80" fill="#000"/>
<rect x="357.55" y="1965.20" width="24.80" height="4.70" fill="#000"/>
<rect x="344.00" y="2101.00" width="52.90" height="553.00" fill="#000"/>
<rect x="425.65" y="2511.80" width="4.70" height="26.20" fill="#000"/>
<rect x="415.60" y="2510.80" width="24.80" height="4.70" fill="#000"/>
<rect x="403.00" y="2536.00" width="51.00" height="118.00" fill="#000"/>
<rect x="407.00" y="2549.80" width="42.20" height="2.80" fill="#fff"/>
<rect x="407.00" y="2563.97" width="42.20" height="2.80" fill="#fff"/>
<rect x="407.00" y="2578.14" width="42.20" height="2.80" fill="#fff"/>
<rect x="407.00" y="2592.31" width="42.20" height="2.80" fill="#fff"/>
<rect x="407.00" y="2606.48" width="42.20" height="2.80" fill="#fff"/>
<rect x="407.00" y="2620.65" width="42.20" height="2.80" fill="#fff"/>
<rect x="407.00" y="2634.82" width="42.20" height="2.80" fill="#fff"/>
<rect x="407.00" y="2648.99" width="42.20" height="2.80" fill="#fff"/>
<rect x="528.25" y="2459.30" width="4.70" height="22.70" fill="#000"/>
<rect x="518.20" y="2458.30" width="24.80" height="4.70" fill="#000"/>
<rect x="505.40" y="2480.00" width="51.40" height="174.00" fill="#000"/>
<rect x="510.20" y="2484.80" width="41.80" height="169.20" fill="#fff"/>
<rect x="586.05" y="2459.30" width="4.70" height="32.90" fill="#000"/>
<rect x="576.00" y="2458.30" width="24.80" height="4.70" fill="#000"/>
<rect x="563.10" y="2490.20" width="51.60" height="163.80" fill="#000"/>
<rect x="567.90" y="2495.00" width="42.00" height="159.00" fill="#fff"/>
<rect x="567.90" y="2504.30" width="42.00" height="2.20" fill="#000"/>
<rect x="567.90" y="2518.47" width="42.00" height="2.20" fill="#000"/>
<rect x="567.90" y="2532.64" width="42.00" height="2.20" fill="#000"/>
<rect x="567.90" y="2546.81" width="42.00" height="2.20" fill="#000"/>
<rect x="567.90" y="2560.98" width="42.00" height="2.20" fill="#000"/>
<rect x="567.90" y="2575.15" width="42.00" height="2.20" fill="#000"/>
<rect x="567.90" y="2589.32" width="42.00" height="2.20" fill="#000"/>
<rect x="567.90" y="2603.49" width="42.00" height="2.20" fill="#000"/>
<rect x="567.90" y="2617.66" width="42.00" height="2.20" fill="#000"/>
<rect x="567.90" y="2631.83" width="42.00" height="2.20" fill="#000"/>
<rect x="567.90" y="2646.00" width="42.00" height="2.20" fill="#000"/>
<rect x="643.70" y="2147.20" width="4.70" height="101.00" fill="#000"/>
<rect x="633.65" y="2146.20" width="24.80" height="4.70" fill="#000"/>
<rect x="621.10" y="2246.20" width="50.90" height="407.80" fill="#000"/>
<rect x="701.25" y="2519.80" width="4.70" height="23.20" fill="#000"/>
<rect x="691.20" y="2518.80" width="24.80" height="4.70" fill="#000"/>
<rect x="678.20" y="2541.00" width="51.80" height="113.00" fill="#000"/>
<rect x="682.20" y="2554.80" width="43.00" height="2.80" fill="#fff"/>
<rect x="682.20" y="2568.97" width="43.00" height="2.80" fill="#fff"/>
<rect x="682.20" y="2583.14" width="43.00" height="2.80" fill="#fff"/>
<rect x="682.20" y="2597.31" width="43.00" height="2.80" fill="#fff"/>
<rect x="682.20" y="2611.48" width="43.00" height="2.80" fill="#fff"/>
<rect x="682.20" y="2625.65" width="43.00" height="2.80" fill="#fff"/>
<rect x="682.20" y="2639.82" width="43.00" height="2.80" fill="#fff"/>
<text transform="translate(1017.81,1753.30) scale(0.925,1.0)" font-size="83.5" font-weight="bold">C</text>
<text x="1071.24" y="1852.10" font-size="45.4" font-weight="bold">Placenta DHA-Phosphatidic Acids</text>
<rect x="1138.20" y="1910.90" width="25.00" height="7.00" fill="#000"/>
<text x="1042.31" y="1927.40" font-size="36.3" font-weight="bold">0.020</text>
<rect x="1138.20" y="2096.00" width="25.00" height="7.00" fill="#000"/>
<text x="1041.86" y="2112.50" font-size="36.3" font-weight="bold">0.015</text>
<rect x="1138.20" y="2281.10" width="25.00" height="7.00" fill="#000"/>
<text x="1042.31" y="2297.60" font-size="36.3" font-weight="bold">0.010</text>
<rect x="1138.20" y="2466.10" width="25.00" height="7.00" fill="#000"/>
<text x="1041.86" y="2482.60" font-size="36.3" font-weight="bold">0.005</text>
<rect x="1138.20" y="2651.20" width="25.00" height="7.00" fill="#000"/>
<text x="1042.31" y="2667.70" font-size="36.3" font-weight="bold">0.000</text>
<text transform="translate(1020.40,2476.54) rotate(-90)" font-size="39.1" font-weight="bold">pmol lipid/ug protein</text>
<text x="1311.65" y="2754.30" font-size="39.2" font-weight="bold">Lipid Species</text>
<text transform="translate(1210.60,2707.40) scale(1.0,1.05)" font-size="29.3" font-weight="normal">16:0_22:6 PA</text>
<text transform="translate(1486.10,2707.40) scale(1.0,1.05)" font-size="29.3" font-weight="normal">18:0_22:6 PA</text>
<rect x="1208.40" y="2621.00" width="4.50" height="11.00" fill="#000"/>
<rect x="1198.15" y="2620.00" width="25.00" height="4.60" fill="#000"/>
<rect x="1185.50" y="2630.00" width="51.30" height="24.00" fill="#000"/>
<rect x="1190.30" y="2634.80" width="41.70" height="19.20" fill="#fff"/>
<rect x="1265.75" y="2553.00" width="4.50" height="29.20" fill="#000"/>
<rect x="1255.50" y="2552.00" width="25.00" height="4.60" fill="#000"/>
<rect x="1243.40" y="2580.20" width="50.20" height="73.80" fill="#000"/>
<rect x="1248.20" y="2585.00" width="40.60" height="69.00" fill="#fff"/>
<rect x="1248.20" y="2594.10" width="40.60" height="2.20" fill="#000"/>
<rect x="1248.20" y="2608.30" width="40.60" height="2.20" fill="#000"/>
<rect x="1248.20" y="2622.50" width="40.60" height="2.20" fill="#000"/>
<rect x="1248.20" y="2636.70" width="40.60" height="2.20" fill="#000"/>
<rect x="1248.20" y="2650.90" width="40.60" height="2.20" fill="#000"/>
<rect x="1322.70" y="2560.30" width="4.50" height="21.90" fill="#000"/>
<rect x="1312.45" y="2559.30" width="25.00" height="4.60" fill="#000"/>
<rect x="1300.10" y="2580.20" width="50.70" height="73.80" fill="#000"/>
<rect x="1381.35" y="2562.90" width="4.50" height="32.40" fill="#000"/>
<rect x="1371.10" y="2561.90" width="25.00" height="4.60" fill="#000"/>
<rect x="1358.20" y="2593.30" width="51.80" height="60.70" fill="#000"/>
<rect x="1362.20" y="2606.90" width="43.00" height="2.80" fill="#fff"/>
<rect x="1362.20" y="2621.10" width="43.00" height="2.80" fill="#fff"/>
<rect x="1362.20" y="2635.30" width="43.00" height="2.80" fill="#fff"/>
<rect x="1362.20" y="2649.50" width="43.00" height="2.80" fill="#fff"/>
<rect x="1483.65" y="2457.90" width="4.50" height="28.30" fill="#000"/>
<rect x="1473.40" y="2456.90" width="25.00" height="4.60" fill="#000"/>
<rect x="1461.20" y="2484.20" width="50.40" height="169.80" fill="#000"/>
<rect x="1466.00" y="2489.00" width="40.80" height="165.00" fill="#fff"/>
<rect x="1541.25" y="2315.10" width="4.50" height="44.90" fill="#000"/>
<rect x="1531.00" y="2314.10" width="25.00" height="4.60" fill="#000"/>
<rect x="1518.10" y="2358.00" width="51.80" height="296.00" fill="#000"/>
<rect x="1522.90" y="2362.80" width="42.20" height="291.20" fill="#fff"/>
<rect x="1522.90" y="2371.90" width="42.20" height="2.20" fill="#000"/>
<rect x="1522.90" y="2386.10" width="42.20" height="2.20" fill="#000"/>
<rect x="1522.90" y="2400.30" width="42.20" height="2.20" fill="#000"/>
<rect x="1522.90" y="2414.50" width="42.20" height="2.20" fill="#000"/>
<rect x="1522.90" y="2428.70" width="42.20" height="2.20" fill="#000"/>
<rect x="1522.90" y="2442.90" width="42.20" height="2.20" fill="#000"/>
<rect x="1522.90" y="2457.10" width="42.20" height="2.20" fill="#000"/>
<rect x="1522.90" y="2471.30" width="42.20" height="2.20" fill="#000"/>
<rect x="1522.90" y="2485.50" width="42.20" height="2.20" fill="#000"/>
<rect x="1522.90" y="2499.70" width="42.20" height="2.20" fill="#000"/>
<rect x="1522.90" y="2513.90" width="42.20" height="2.20" fill="#000"/>
<rect x="1522.90" y="2528.10" width="42.20" height="2.20" fill="#000"/>
<rect x="1522.90" y="2542.30" width="42.20" height="2.20" fill="#000"/>
<rect x="1522.90" y="2556.50" width="42.20" height="2.20" fill="#000"/>
<rect x="1522.90" y="2570.70" width="42.20" height="2.20" fill="#000"/>
<rect x="1522.90" y="2584.90" width="42.20" height="2.20" fill="#000"/>
<rect x="1522.90" y="2599.10" width="42.20" height="2.20" fill="#000"/>
<rect x="1522.90" y="2613.30" width="42.20" height="2.20" fill="#000"/>
<rect x="1522.90" y="2627.50" width="42.20" height="2.20" fill="#000"/>
<rect x="1522.90" y="2641.70" width="42.20" height="2.20" fill="#000"/>
<rect x="1599.25" y="1971.00" width="4.50" height="118.10" fill="#000"/>
<rect x="1589.00" y="1970.00" width="25.00" height="4.60" fill="#000"/>
<rect x="1576.00" y="2087.10" width="52.00" height="566.90" fill="#000"/>
<rect x="1656.20" y="2334.10" width="4.50" height="56.90" fill="#000"/>
<rect x="1645.95" y="2333.10" width="25.00" height="4.60" fill="#000"/>
<rect x="1632.90" y="2389.00" width="52.10" height="265.00" fill="#000"/>
<rect x="1636.90" y="2402.60" width="43.30" height="2.80" fill="#fff"/>
<rect x="1636.90" y="2416.80" width="43.30" height="2.80" fill="#fff"/>
<rect x="1636.90" y="2431.00" width="43.30" height="2.80" fill="#fff"/>
<rect x="1636.90" y="2445.20" width="43.30" height="2.80" fill="#fff"/>
<rect x="1636.90" y="2459.40" width="43.30" height="2.80" fill="#fff"/>
<rect x="1636.90" y="2473.60" width="43.30" height="2.80" fill="#fff"/>
<rect x="1636.90" y="2487.80" width="43.30" height="2.80" fill="#fff"/>
<rect x="1636.90" y="2502.00" width="43.30" height="2.80" fill="#fff"/>
<rect x="1636.90" y="2516.20" width="43.30" height="2.80" fill="#fff"/>
<rect x="1636.90" y="2530.40" width="43.30" height="2.80" fill="#fff"/>
<rect x="1636.90" y="2544.60" width="43.30" height="2.80" fill="#fff"/>
<rect x="1636.90" y="2558.80" width="43.30" height="2.80" fill="#fff"/>
<rect x="1636.90" y="2573.00" width="43.30" height="2.80" fill="#fff"/>
<rect x="1636.90" y="2587.20" width="43.30" height="2.80" fill="#fff"/>
<rect x="1636.90" y="2601.40" width="43.30" height="2.80" fill="#fff"/>
<rect x="1636.90" y="2615.60" width="43.30" height="2.80" fill="#fff"/>
<rect x="1636.90" y="2629.80" width="43.30" height="2.80" fill="#fff"/>
<rect x="1636.90" y="2644.00" width="43.30" height="2.80" fill="#fff"/>
<text x="242.61" y="2373.93" font-size="37.5" font-weight="normal">a</text>
<text x="299.91" y="2373.93" font-size="37.5" font-weight="normal">a</text>
<text x="358.76" y="1933.33" font-size="37.5" font-weight="normal">b</text>
<text x="417.61" y="2479.62" font-size="37.5" font-weight="normal">a</text>
<text x="518.41" y="2428.53" font-size="37.5" font-weight="normal">a</text>
<text x="575.21" y="2428.53" font-size="37.5" font-weight="normal">a</text>
<text x="634.56" y="2113.22" font-size="37.5" font-weight="normal">b</text>
<text x="693.51" y="2486.32" font-size="37.5" font-weight="normal">a</text>
<text x="1474.51" y="2426.32" font-size="37.5" font-weight="normal">a</text>
<text x="1533.61" y="2282.82" font-size="37.5" font-weight="normal">a</text>
<text x="1594.66" y="1938.12" font-size="37.5" font-weight="normal">b</text>
<text x="1647.61" y="2304.22" font-size="37.5" font-weight="normal">a</text>
<text x="1939.06" y="1985.60" font-size="46.1" font-weight="bold">Control</text>
<text x="1920.49" y="2309.30" font-size="46.1" font-weight="bold">High BMI</text>
<rect x="1794.10" y="2025.20" width="125.70" height="63.30" fill="#000"/>
<rect x="1797.60" y="2028.70" width="118.70" height="56.30" fill="#fff"/>
<text transform="translate(1947.66,2072.80) scale(1.0,1.05)" font-size="46.0" font-weight="normal">0 mg DHA</text>
<rect x="1794.10" y="2119.70" width="125.70" height="62.60" fill="#000"/>
<rect x="1797.60" y="2123.20" width="118.70" height="55.60" fill="#fff"/>
<rect x="1797.60" y="2132.90" width="118.70" height="2.00" fill="#000"/>
<rect x="1797.60" y="2150.10" width="118.70" height="2.00" fill="#000"/>
<rect x="1797.60" y="2163.80" width="118.70" height="2.00" fill="#000"/>
<text transform="translate(1946.40,2166.70) scale(1.0,1.05)" font-size="46.0" font-weight="normal">200 mg DHA</text>
<rect x="1794.10" y="2347.20" width="125.70" height="63.40" fill="#000"/>
<text transform="translate(1947.66,2395.90) scale(1.0,1.05)" font-size="46.0" font-weight="normal">0 mg DHA</text>
<rect x="1794.10" y="2446.20" width="125.70" height="63.30" fill="#000"/>
<rect x="1796.00" y="2459.00" width="122.20" height="2.00" fill="#464646"/>
<rect x="1796.00" y="2476.80" width="122.20" height="2.00" fill="#fff"/>
<rect x="1796.00" y="2492.90" width="122.20" height="2.00" fill="#fff"/>
<text transform="translate(1946.40,2494.30) scale(1.0,1.05)" font-size="46.0" font-weight="normal">200 mg DHA</text>
<rect x="282.00" y="394.00" width="10.00" height="944.00" fill="#000"/>
<rect x="282.00" y="1330.00" width="1862.00" height="8.00" fill="#000"/>
<rect x="201.20" y="1910.90" width="6.90" height="747.10" fill="#000"/>
<rect x="201.20" y="2652.00" width="561.70" height="6.00" fill="#000"/>
<rect x="1156.20" y="1911.00" width="6.70" height="747.00" fill="#000"/>
<rect x="1156.20" y="2651.40" width="561.60" height="6.40" fill="#000"/>
</svg>
</body></html>
